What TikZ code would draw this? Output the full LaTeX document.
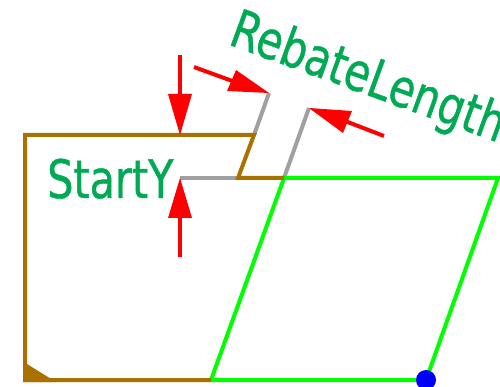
\documentclass[tikz,border=0pt]{standalone}
\usepackage{fontspec}
\setmainfont{DejaVu Sans}
\newfontfamily\narrowlabel[FakeStretch=0.78,FakeBold=0.8]{DejaVu Sans}
\definecolor{brownline}{RGB}{170,112,0}
\definecolor{grayline}{RGB}{160,160,160}
\definecolor{greenline}{RGB}{0,255,0}
\definecolor{labelgreen}{RGB}{0,170,85}
\tikzset{
  x=1pt,y=-1pt,
  brownseg/.style={draw=brownline,line width=4pt,line join=miter},
  grayseg/.style={draw=grayline,line width=4pt},
  greenseg/.style={draw=greenline,line width=4pt,line join=miter},
  arrowshaft/.style={draw=red,line width=4pt},
  arrowhead/.style={fill=red,draw=none},
  dimlabel/.style={text=labelgreen,inner sep=0pt,font=\narrowlabel\fontsize{53}{53}\selectfont}
}
\begin{document}
\begin{tikzpicture}
\useasboundingbox (0,0) rectangle (500,387);
\clip (0,0) rectangle (500,387);
\coordinate (bl) at (25,380);
\coordinate (tl) at (25,135);
\coordinate (tr) at (254,135);
\coordinate (nk) at (238,178);
\coordinate (g1) at (284,178);
\coordinate (g2) at (498,178);
\coordinate (g3) at (426,380);
\coordinate (g4) at (211,380);
\coordinate (ext1) at (269,93);
\coordinate (ext2) at (309,108);
\coordinate (ext3) at (180,178);
\coordinate (a1s) at (180,55);
\coordinate (a1t) at (180,135);
\coordinate (a2s) at (194,67);
\coordinate (a3s) at (384,136);
\coordinate (a4s) at (180,257);
\draw[grayseg] (tr) -- (ext1);
\draw[grayseg] (g1) -- (ext2);
\draw[grayseg] (nk) -- (ext3);
\draw[greenseg] (g4) -- (g1) -- (g2) -- (g3) -- cycle;
\draw[brownseg] (g4) -- (bl) -- (tl) -- (tr) -- (nk) -- (g1);
\fill[brownline] (23,382) -- (23,363.5) -- (27,364) -- (56,382) -- cycle;
\draw[arrowshaft] (a1s) -- (180,100);
\fill[arrowhead] (168,94) -- (192,94) -- (a1t) -- cycle;
\draw[arrowshaft] (a2s) -- (235,82);
\fill[arrowhead] (236,70) -- (227,91) -- (ext1) -- cycle;
\draw[arrowshaft] (a3s) -- (345,121);
\fill[arrowhead] (352,111) -- (343,133) -- (ext2) -- cycle;
\draw[arrowshaft] (a4s) -- (180,212);
\fill[arrowhead] (168,218) -- (192,218) -- (ext3) -- cycle;
\fill[blue] (g3) circle (10);
\node[dimlabel,anchor=base west] (lblY) at (47,198) {StartY};
\node[dimlabel,rotate=-20,anchor=base west] (lblR) at (227,44) {RebateLength};
\end{tikzpicture}
\end{document}
